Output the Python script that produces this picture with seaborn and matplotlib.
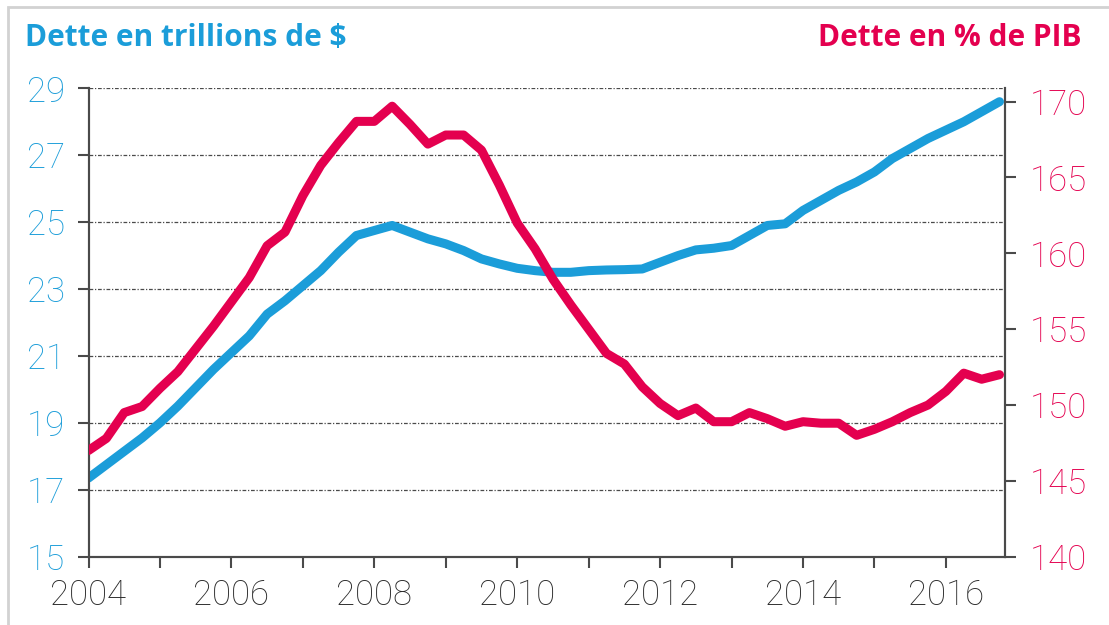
"""Dette : trillions de $ et % du PIB, 2004-2016."""

import numpy as np
import pandas as pd
import matplotlib

matplotlib.use("Agg")
import matplotlib.pyplot as plt
from matplotlib.patches import Rectangle
import seaborn as sns

BLUE = "#1b9dd9"
RED = "#e4004f"
GREY = "#4a4a4a"

# quarterly positions (decimal years)
years = np.arange(2004, 2016.76, 0.25)

debt_trillions = [
    17.35, 17.75, 18.15, 18.55, 19.0, 19.5, 20.05, 20.6,
    21.1, 21.6, 22.25, 22.65, 23.1, 23.55, 24.1, 24.6,
    24.75, 24.9, 24.7, 24.5, 24.35, 24.15, 23.9, 23.75,
    23.62, 23.55, 23.5, 23.5, 23.55, 23.57, 23.58, 23.6,
    23.8, 24.0, 24.17, 24.22, 24.3, 24.6, 24.9, 24.95,
    25.35, 25.65, 25.95, 26.2, 26.5, 26.9, 27.2, 27.5,
    27.75, 28.0, 28.3, 28.6,
]

debt_pct_gdp = [
    147.0, 147.8, 149.5, 149.9, 151.1, 152.2, 153.7, 155.2,
    156.8, 158.4, 160.5, 161.4, 163.8, 165.8, 167.3, 168.7,
    168.7, 169.7, 168.5, 167.2, 167.8, 167.8, 166.8, 164.5,
    162.0, 160.3, 158.3, 156.6, 155.0, 153.4, 152.7, 151.2,
    150.1, 149.3, 149.8, 148.9, 148.9, 149.5, 149.1, 148.6,
    148.9, 148.8, 148.8, 148.0, 148.4, 148.9, 149.5, 150.0,
    150.9, 152.1, 151.7, 152.0,
]

left_ticks = [15, 17, 19, 21, 23, 25, 27, 29]
right_ticks = [140, 145, 150, 155, 160, 165, 170]
year_labels = [2004, 2006, 2008, 2010, 2012, 2014, 2016]

df = pd.DataFrame({"year": years, "trillions": debt_trillions, "pct": debt_pct_gdp})

sns.set_style("white")
plt.rcParams["font.family"] = ["Roboto", "DejaVu Sans"]

fig = plt.figure(figsize=(11.09, 6.25), dpi=100)
fig.subplots_adjust(left=88.5 / 1109, right=1004.5 / 1109,
                    top=1 - 88.3 / 625, bottom=1 - 556.7 / 625)
ax = fig.add_subplot(111)
ax2 = ax.twinx()

# light frame around the figure (cropped on right/bottom)
fig.patches.append(Rectangle((8 / 1109, -0.1), 2, 0.1 + 1 - 7 / 625,
                             transform=fig.transFigure, fill=False,
                             edgecolor="#d2d2d2", lw=2))

grid_style = (0, (3.0, 1.4, 1.0, 1.4))
for y in left_ticks[1:]:
    ax.axhline(y, color=GREY, lw=0.9, ls=grid_style, zorder=0)

sns.lineplot(data=df, x="year", y="trillions", ax=ax, color=BLUE, lw=6.5,
             solid_capstyle="round", zorder=3)
sns.lineplot(data=df, x="year", y="pct", ax=ax2, color=RED, lw=6.5,
             solid_capstyle="round", zorder=3)

ax.set_xlim(2004, 2016.82)
ax.set_ylim(15, 29)
ax2.set_ylim(140, 170.88)

ax.set_xticks(list(range(2004, 2017)))
ax.set_xticklabels([str(y) if y in year_labels else "" for y in range(2004, 2017)])
ax.set_yticks(left_ticks)
ax.set_yticklabels([str(v) for v in left_ticks])
ax2.set_yticks(right_ticks)
ax2.set_yticklabels([str(v) for v in right_ticks])

ax.set_xlabel("")
ax.set_ylabel("")
ax2.set_ylabel("")

for a in (ax, ax2):
    a.spines["top"].set_visible(False)
    for side in ("left", "right", "bottom"):
        a.spines[side].set_color(GREY)
        a.spines[side].set_linewidth(1.5)
    a.patch.set_visible(False)

ax.tick_params(axis="y", which="both", left=True, direction="out", length=8,
               width=1.5, color=GREY, pad=9, labelsize=25, labelcolor=BLUE)
ax.tick_params(axis="x", which="both", bottom=True, direction="out", length=8,
               width=1.5, color=GREY, pad=8, labelsize=25, labelcolor="#2a2a2a")
ax2.tick_params(axis="y", which="both", right=True, direction="out", length=8,
                width=1.5, color=GREY, pad=10, labelsize=25, labelcolor=RED)
for lab in ax.get_xticklabels() + ax.get_yticklabels() + ax2.get_yticklabels():
    lab.set_fontweight("light")

title_font = ["Open Sans", "DejaVu Sans"]
fig.text(25 / 1109, 1 - 38 / 625, "Dette en trillions de $", color=BLUE,
         fontsize=21.5, fontweight="bold", family=title_font, ha="left", va="center")
fig.text(1082 / 1109, 1 - 38 / 625, "Dette en % de PIB", color=RED,
         fontsize=21.5, fontweight="bold", family=title_font, ha="right", va="center")

fig.savefig("out.png", dpi=100)
